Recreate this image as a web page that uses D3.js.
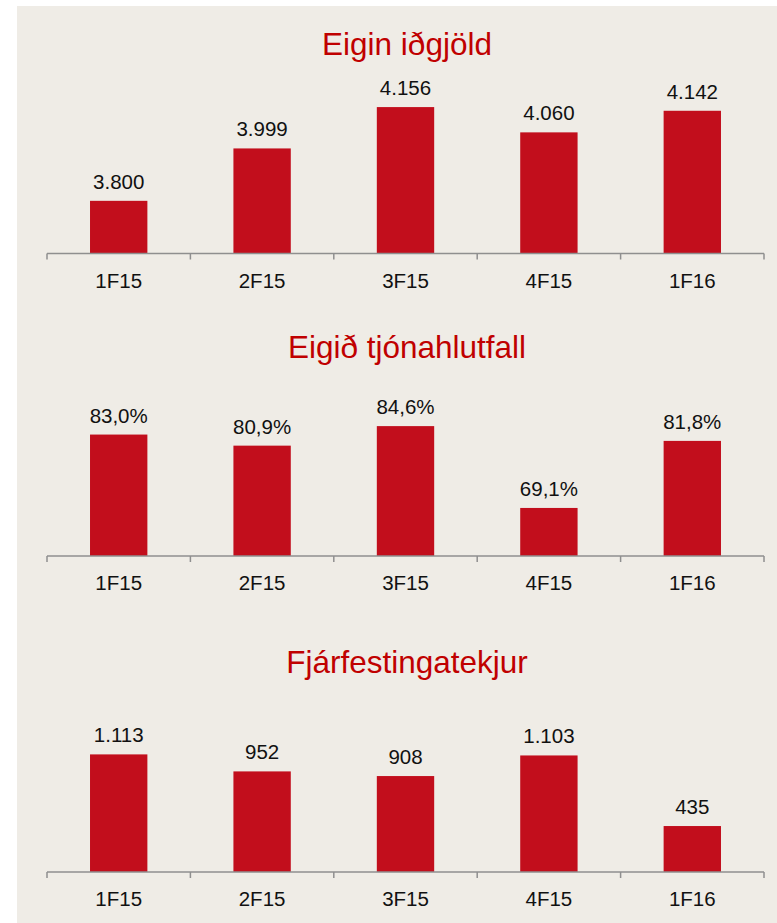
<!DOCTYPE html>
<html>
<head>
<meta charset="utf-8">
<script src="https://cdnjs.cloudflare.com/ajax/libs/d3/7.8.5/d3.min.js"></script>
<style>
  body { margin: 0; background: #fff; }
  text { font-family: "Liberation Sans", Arial, sans-serif; }
</style>
</head>
<body>
<div id="chart"></div>
<script>
// data
const categories = ['1F15', '2F15', '3F15', '4F15', '1F16'];
const titles = ['Eigin iðgjöld', 'Eigið tjónahlutfall', 'Fjárfestingatekjur'];
const premiums = [3800, 3999, 4156, 4060, 4142];
const lossRatio = [83.0, 80.9, 84.6, 69.1, 81.8];
const investmentIncome = [1113, 952, 908, 1103, 435];
const premiumLabels = ['3.800', '3.999', '4.156', '4.060', '4.142'];
const lossRatioLabels = ['83,0%', '80,9%', '84,6%', '69,1%', '81,8%'];
const investmentLabels = ['1.113', '952', '908', '1.103', '435'];

const width = 777;
const height = 923;

const svg = d3.select('#chart')
  .append('svg')
  .attr('width', width)
  .attr('height', height);

svg.append('rect')
  .attr('x', 17)
  .attr('y', 6)
  .attr('width', width - 17)
  .attr('height', height - 6)
  .attr('fill', '#EFECE6');

const x = d3.scaleBand()
  .domain(categories)
  .range([47, 764])
  .paddingInner(0.6)
  .paddingOuter(0.3);

// one panel per chart
const panels = [
  { title: titles[0], values: premiums, labels: premiumLabels, domain: [3600, 4200], axisY: 253.5, plotH: 158, titleY: 55 },
  { title: titles[1], values: lossRatio, labels: lossRatioLabels, domain: [60, 90], axisY: 556, plotH: 158.4, titleY: 358 },
  { title: titles[2], values: investmentIncome, labels: investmentLabels, domain: [0, 1200], axisY: 872, plotH: 126.8, titleY: 673 }
];

panels.forEach((p) => {
  const y = d3.scaleLinear()
    .domain(p.domain)
    .range([p.axisY, p.axisY - p.plotH]);

  const g = svg.append('g');

  // title
  g.append('text')
    .attr('x', 407)
    .attr('y', p.titleY)
    .attr('text-anchor', 'middle')
    .style('font-size', '31.5px')
    .attr('fill', '#C00000')
    .text(p.title);

  // bars
  g.selectAll('rect.bar')
    .data(p.values)
    .enter()
    .append('rect')
    .attr('class', 'bar')
    .attr('x', (d, i) => x(categories[i]))
    .attr('width', x.bandwidth())
    .attr('y', (d) => y(d))
    .attr('height', (d) => p.axisY - y(d))
    .attr('fill', '#C20E1C');

  // value labels
  g.selectAll('text.val')
    .data(p.values)
    .enter()
    .append('text')
    .attr('class', 'val')
    .attr('x', (d, i) => x(categories[i]) + x.bandwidth() / 2)
    .attr('y', (d) => y(d) - 12)
    .attr('text-anchor', 'middle')
    .style('font-size', '20.5px')
    .attr('fill', '#111')
    .text((d, i) => p.labels[i]);

  // axis line + ticks at band boundaries
  const step = x.step();
  const x0 = x.range()[0];
  g.append('line')
    .attr('x1', x0)
    .attr('x2', x.range()[1])
    .attr('y1', p.axisY)
    .attr('y2', p.axisY)
    .attr('stroke', '#8f8f8f')
    .attr('stroke-width', 1.5);

  d3.range(categories.length + 1).forEach((i) => {
    g.append('line')
      .attr('x1', x0 + i * step)
      .attr('x2', x0 + i * step)
      .attr('y1', p.axisY)
      .attr('y2', p.axisY + 6)
      .attr('stroke', '#8f8f8f')
      .attr('stroke-width', 1.5);
  });

  // category labels
  g.selectAll('text.cat')
    .data(categories)
    .enter()
    .append('text')
    .attr('class', 'cat')
    .attr('x', (d) => x(d) + x.bandwidth() / 2)
    .attr('y', p.axisY + 34)
    .attr('text-anchor', 'middle')
    .style('font-size', '20.5px')
    .attr('fill', '#111')
    .text((d) => d);
});
</script>
</body>
</html>
